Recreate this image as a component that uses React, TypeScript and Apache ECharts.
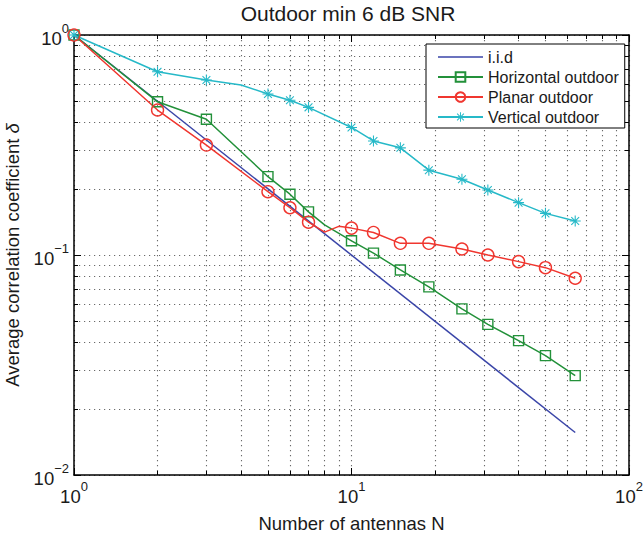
import React, { useEffect, useRef } from "react";
import * as echarts from "echarts";

// ---- data ----
const markerN = [1, 2, 3, 5, 6, 7, 10, 12, 15, 19, 25, 31, 40, 50, 64];
const iidN = [1, 64];
const iidValues = [1, 0.0156];
const horizontalValues = [1, 0.497, 0.414, 0.227, 0.189, 0.157, 0.116, 0.102, 0.0855, 0.0716, 0.0569, 0.0484, 0.0408, 0.0349, 0.0283];
const horizontalExtraN = [8];
const horizontalExtraValues = [0.137];
const planarValues = [1, 0.456, 0.316, 0.194, 0.164, 0.141, 0.1325, 0.1266, 0.113, 0.113, 0.1065, 0.1, 0.0933, 0.0876, 0.0784];
const planarExtraN = [8, 9];
const planarExtraValues = [0.127, 0.135];
const verticalValues = [1, 0.681, 0.624, 0.539, 0.505, 0.469, 0.38, 0.33, 0.307, 0.243, 0.221, 0.1975, 0.173, 0.1546, 0.1427];
const verticalExtraN = [4];
const verticalExtraValues = [0.593];
const seriesNames = ["i.i.d", "Horizontal outdoor", "Planar outdoor", "Vertical outdoor"];
const xTickValues = [1, 10, 100];
const yTickValues = [0.01, 0.1, 1];

const FONT = "Liberation Sans, Arial, Helvetica, sans-serif";
const TXT = "#1a1a1a";
const C_BLUE = "#3a45a8";
const C_GREEN = "#23913a";
const C_RED = "#f0362f";
const C_CYAN = "#26b9c8";
const STAR =
  "path://M9 0H11V20H9Z M0 9H20V11H0Z M3.6 2.2L17.8 16.4L16.4 17.8L2.2 3.6Z M16.4 2.2L17.8 3.6L3.6 17.8L2.2 16.4Z";

function buildData(ns: number[], vals: number[], exN: number[] = [], exV: number[] = []) {
  const pts: any[] = ns.map((n, i) => ({ value: [n, vals[i]] }));
  exN.forEach((n, i) => pts.push({ value: [n, exV[i]], symbol: "none" }));
  pts.sort((a, b) => a.value[0] - b.value[0]);
  return pts;
}

function powLabel(v: number) {
  const e = Math.round(Math.log10(v));
  const isTick = xTickValues.includes(v) || yTickValues.includes(v);
  if (!isTick) return "";
  return `{b|10}{s|${e < 0 ? "\u2212" + -e : e}}`;
}

const labelRich = {
  b: { fontSize: 18.5, fontFamily: FONT, color: TXT, lineHeight: 26, verticalAlign: "bottom" },
  s: { fontSize: 13, fontFamily: FONT, color: TXT, lineHeight: 13, verticalAlign: "top" },
};

const dotted = { type: [1.2, 3.8], color: "#6a6a6a", width: 1.1 };

export default function App() {
  const ref = useRef<HTMLDivElement>(null);
  useEffect(() => {
    if (!ref.current) return;
    const chart = echarts.init(ref.current, null, { renderer: "svg" });
    const baseAxis = (min: number, max: number) => ({
      type: "log",
      logBase: 10,
      min,
      max,
      axisLine: { show: true, lineStyle: { color: "#000", width: 1.5 } },
      axisTick: { show: true, inside: true, length: 7, lineStyle: { color: "#000", width: 1 } },
      minorTick: { show: true, splitNumber: 9, length: 4, lineStyle: { color: "#000", width: 1 } },
    });
    chart.setOption({
      animation: false,
      backgroundColor: "#fff",
      title: {
        text: "Outdoor min 6 dB SNR",
        left: 348,
        top: 3,
        textAlign: "center",
        padding: 0,
        textStyle: { fontFamily: FONT, fontSize: 21, fontWeight: "normal", color: TXT },
      },
      grid: {
        left: 74,
        right: 15,
        top: 35,
        bottom: 61,
        show: false,
        containLabel: false,
        outerBoundsMode: "none",
      },
      legend: {
        orient: "vertical",
        left: 426,
        top: 44,
        padding: [3, 6, 1, 11],
        itemGap: 0,
        itemWidth: 45,
        itemHeight: 12,
        backgroundColor: "#fff",
        borderColor: "#000",
        borderWidth: 1,
        borderRadius: 0,
        data: [
          { name: seriesNames[0], icon: "path://M0 0H45V1.5H0Z", itemStyle: { color: C_BLUE } },
          seriesNames[1],
          seriesNames[2],
          seriesNames[3],
        ],
        textStyle: { fontFamily: FONT, fontSize: 16, color: TXT, lineHeight: 20 },
      },
      xAxis: [
        {
          ...baseAxis(1, 100),
          position: "bottom",
          name: "Number of antennas N",
          nameLocation: "middle",
          nameGap: 39,
          nameTextStyle: { fontFamily: FONT, fontSize: 18.5, color: TXT },
          axisLabel: { margin: 5, formatter: powLabel, rich: labelRich },
          splitLine: { show: true, lineStyle: dotted },
          minorSplitLine: { show: true, lineStyle: dotted },
        },
        {
          ...baseAxis(1, 100),
          position: "top",
          axisLabel: { show: false },
          splitLine: { show: false },
        },
      ],
      yAxis: [
        {
          ...baseAxis(0.01, 1),
          position: "left",
          name: "{a|Average correlation coefficient }{d|\u03b4}",
          nameLocation: "middle",
          nameGap: 52,
          nameTextStyle: {
            rich: {
              a: { fontFamily: FONT, fontSize: 18.5, color: TXT },
              d: { fontFamily: FONT, fontSize: 18.5, color: TXT, fontStyle: "italic" },
            },
          },
          axisLabel: { margin: 5, formatter: powLabel, rich: labelRich },
          splitLine: { show: true, lineStyle: dotted },
          minorSplitLine: { show: true, lineStyle: dotted },
        },
        {
          ...baseAxis(0.01, 1),
          position: "right",
          axisLabel: { show: false },
          splitLine: { show: false },
        },
      ],
      series: [
        {
          name: seriesNames[0],
          type: "line",
          symbol: "none",
          color: C_BLUE,
          lineStyle: { color: C_BLUE, width: 1.5 },
          data: buildData(iidN, iidValues),
        },
        {
          name: seriesNames[1],
          type: "line",
          symbol: "rect",
          symbolSize: 10,
          color: C_GREEN,
          lineStyle: { color: C_GREEN, width: 1.5 },
          itemStyle: { color: "rgba(0,0,0,0)", borderColor: C_GREEN, borderWidth: 1.4 },
          data: buildData(markerN, horizontalValues, horizontalExtraN, horizontalExtraValues),
        },
        {
          name: seriesNames[2],
          type: "line",
          symbol: "circle",
          symbolSize: 12,
          color: C_RED,
          lineStyle: { color: C_RED, width: 1.5 },
          itemStyle: { color: "rgba(0,0,0,0)", borderColor: C_RED, borderWidth: 1.4 },
          data: buildData(markerN, planarValues, planarExtraN, planarExtraValues),
        },
        {
          name: seriesNames[3],
          type: "line",
          symbol: STAR,
          symbolSize: 11,
          color: C_CYAN,
          lineStyle: { color: C_CYAN, width: 1.5 },
          itemStyle: { color: C_CYAN },
          data: buildData(markerN, verticalValues, verticalExtraN, verticalExtraValues),
        },
      ],
    });
    return () => chart.dispose();
  }, []);
  return (
    <div
      ref={ref}
      style={{ position: "fixed", left: 0, top: 0, width: 644, height: 536, background: "#fff" }}
    />
  );
}
